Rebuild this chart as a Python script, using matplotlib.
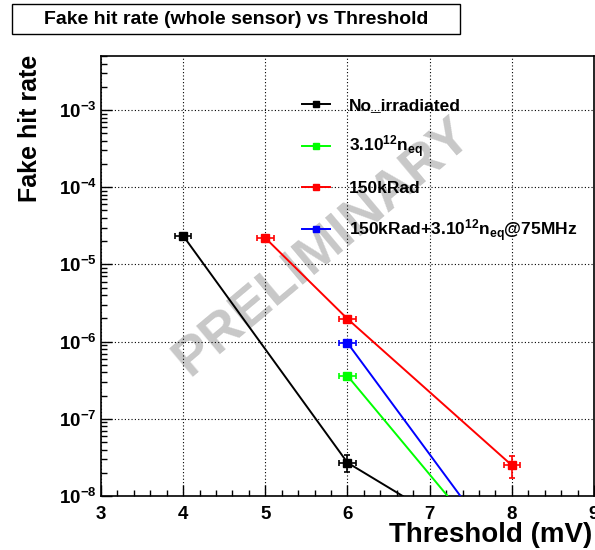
import numpy as np
import matplotlib
matplotlib.use("Agg")
import matplotlib.pyplot as plt
from matplotlib.patches import Rectangle
from matplotlib.ticker import FixedLocator, LogLocator, FuncFormatter, NullFormatter

plt.rcParams['font.family'] = ['Liberation Sans', 'DejaVu Sans']
plt.rcParams['font.weight'] = 'bold'
plt.rcParams['mathtext.fontset'] = 'custom'
plt.rcParams['mathtext.rm'] = 'Liberation Sans:bold'
plt.rcParams['mathtext.it'] = 'Liberation Sans:bold'
plt.rcParams['mathtext.bf'] = 'Liberation Sans:bold'
plt.rcParams['mathtext.default'] = 'rm'

# fake hit rate vs threshold, per sensor condition
labels = ['No_irradiated', r'3.10$^{12}$n$_{eq}$', '150kRad',
          r'150kRad+3.10$^{12}$n$_{eq}$@75MHz']
colors = ['black', '#00ff00', 'red', 'blue']

thr_noirr = [4, 6, 8]
rate_noirr = [2.35e-5, 2.7e-8, 1.4e-9]
err_noirr = [1.0e-6, 0.65e-8, 0]

thr_neq = [6, 8]
rate_neq = [3.6e-7, 1.0e-9]
err_neq = [1.5e-8, 0]

thr_rad = [5, 6, 8]
rate_rad = [2.2e-5, 1.97e-6, 2.5e-8]
err_rad = [1.0e-6, 1.0e-7, 0.8e-8]

thr_both = [6, 8]
rate_both = [9.6e-7, 1.25e-9]
err_both = [4.0e-8, 0]

thr_err = 0.1

series = [(thr_noirr, rate_noirr, err_noirr),
          (thr_neq, rate_neq, err_neq),
          (thr_rad, rate_rad, err_rad),
          (thr_both, rate_both, err_both)]

fig = plt.figure(figsize=(5.95, 5.5), dpi=100)
ax = fig.add_axes([101/595, 1-496/550, 493/595, 440/550])

for (x, y, e), c, lab in zip(series, colors, labels):
    ax.plot(x, y, color=c, lw=1.4, marker='s', ms=5.5, label=lab, zorder=4)
    # error bars only where an error was measured
    xs = [xi for xi, ei in zip(x, e) if ei > 0]
    ys = [yi for yi, ei in zip(y, e) if ei > 0]
    es = [ei for ei in e if ei > 0]
    ax.errorbar(xs, ys, xerr=thr_err, yerr=es, fmt='none', ecolor=c,
                elinewidth=1.2, capsize=2, capthick=1.2, zorder=4)

ax.set_yscale('log')
ax.set_xlim(3, 9)
ax.set_ylim(1e-8, 10**-2.3)

ax.xaxis.set_major_locator(FixedLocator([3, 4, 5, 6, 7, 8, 9]))
ax.xaxis.set_minor_locator(FixedLocator(np.arange(3, 9.01, 0.2)))
ax.yaxis.set_major_locator(LogLocator(base=10, numticks=20))
ax.yaxis.set_minor_locator(LogLocator(base=10, subs=np.arange(2, 10), numticks=20))
ax.yaxis.set_minor_formatter(NullFormatter())
ax.xaxis.set_major_formatter(FuncFormatter(lambda v, p: '%d' % v))
ax.yaxis.set_major_formatter(FuncFormatter(
    lambda v, p: r'$10^{%d}$' % int(round(np.log10(v)))))

ax.tick_params(which='both', direction='in', top=False, right=False,
               labelsize=13.5, width=1)
ax.tick_params(which='major', length=8)
ax.tick_params(which='minor', length=4.5)
ax.tick_params(axis='x', pad=7)
ax.tick_params(axis='y', pad=3)
for lbl in ax.get_xticklabels() + ax.get_yticklabels():
    lbl.set_fontweight('bold')

ax.grid(True, which='major', color='black', ls=(0, (1, 2)), lw=0.8)
for s in ax.spines.values():
    s.set_linewidth(1.2)

leg = ax.legend(loc='upper left', bbox_to_anchor=(302/595, 1-98/550),
                bbox_transform=fig.transFigure, frameon=False, fontsize=12.5,
                handlelength=1.6, handletextpad=1.1, labelspacing=1.2,
                borderpad=0, borderaxespad=0, numpoints=1, markerscale=0.9)
leg.set_zorder(6)

# watermark, under the graphs and legend
ax.text(322/595, 1-247/550, 'PRELIMINARY', color='#c8c8c8', fontsize=39,
        fontweight='bold', rotation=40, ha='center', va='center',
        rotation_mode='anchor', transform=fig.transFigure, zorder=1)

# title box
fig.patches.append(Rectangle((12/595, 1-34/550), 448/595, 30/550,
                             transform=fig.transFigure, fill=False,
                             edgecolor='black', lw=1))
fig.text(236/595, 1-19/550, 'Fake hit rate (whole sensor) vs Threshold',
         fontsize=14, fontweight='bold', ha='center', va='center')

fig.text(30/595, 1-55/550, 'Fake hit rate', rotation=90, fontsize=18,
         fontweight='bold', ha='center', va='top')
fig.text(592/595, 1-535/550, 'Threshold (mV)', fontsize=20,
         fontweight='bold', ha='right', va='center')

fig.savefig('out.png', dpi=100)
